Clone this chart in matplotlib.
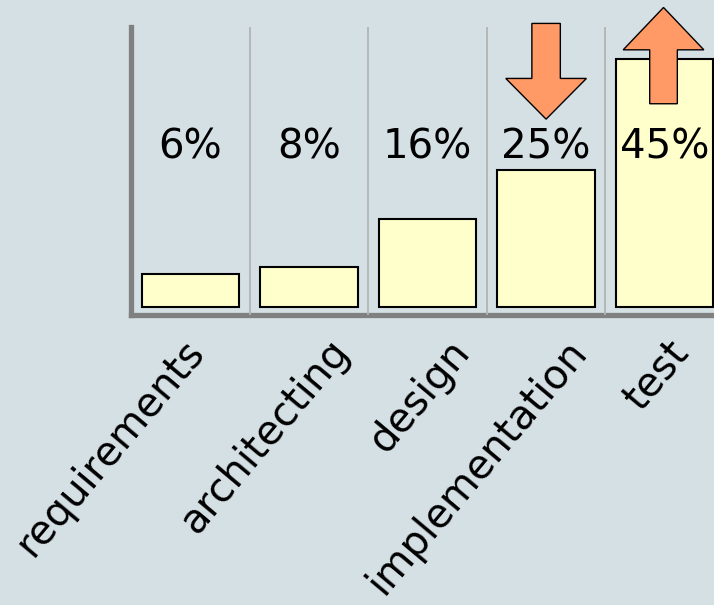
import matplotlib
matplotlib.use('Agg')
import matplotlib.pyplot as plt
from matplotlib.patches import FancyArrow
from matplotlib.transforms import ScaledTranslation

# phases and share of effort
phases = ['requirements', 'architecting', 'design', 'implementation', 'test']
pct_labels = ['6%', '8%', '16%', '25%', '45%']
bar_heights = [5.9, 7.3, 16.0, 24.8, 45.0]

bg = '#d5e0e5'
bar_color = '#ffffcc'
arrow_color = '#ff9966'

# small horizontal nudges (pixels) for the slanted category labels
label_nudge = [-9, 18, 20, 18, 2]

fig = plt.figure(figsize=(7.14, 6.05), dpi=100, facecolor=bg)
# axes box in figure fractions (left edge at ~131px, bottom ~315px, top ~27px)
ax = fig.add_axes([131 / 714, (605 - 315) / 605, (714 - 131) / 714, (315 - 27) / 605])
ax.set_facecolor(bg)

x = range(len(phases))
ax.bar(x, bar_heights, width=0.82, color=bar_color, edgecolor='black',
       linewidth=1.5, zorder=3)

ax.set_xlim(-0.5, -0.5 + (714 - 131) / 118.6)
ax.set_ylim(-1.5, 50.85)

# column separators
for i in range(len(phases) - 1):
    ax.axvline(i + 0.5, color='#b3b3b3', lw=1.3, zorder=4)

for i, lab in enumerate(pct_labels):
    ax.text(i, 28.9, lab, ha='center', va='center', fontsize=29,
            family='DejaVu Sans', zorder=6)

# arrows: implementation goes down, test goes up
down = FancyArrow(3, 51.5, 0, -17.4, width=0.24, head_width=0.68,
                  head_length=7.4, length_includes_head=True,
                  facecolor=arrow_color, edgecolor='black', lw=1,
                  zorder=5, clip_on=False)
up = FancyArrow(3.99, 36.9, 0, 17.5, width=0.233, head_width=0.68,
                head_length=7.7, length_includes_head=True,
                facecolor=arrow_color, edgecolor='black', lw=1,
                zorder=5, clip_on=False)
ax.add_patch(down)
ax.add_patch(up)

for s in ['top', 'right']:
    ax.spines[s].set_visible(False)
for s in ['left', 'bottom']:
    ax.spines[s].set_color('#808080')
    ax.spines[s].set_linewidth(3.8)

ax.set_yticks([])
ax.set_xticks([])

# slanted category labels
for i, name in enumerate(phases):
    off = ScaledTranslation(label_nudge[i] / 100, -17 / 100, fig.dpi_scale_trans)
    ax.text(i, 0, name, transform=ax.get_xaxis_transform() + off,
            rotation=50, rotation_mode='anchor', ha='right', va='top',
            fontsize=29, clip_on=False)

fig.savefig('out.png', dpi=100, facecolor=bg)
